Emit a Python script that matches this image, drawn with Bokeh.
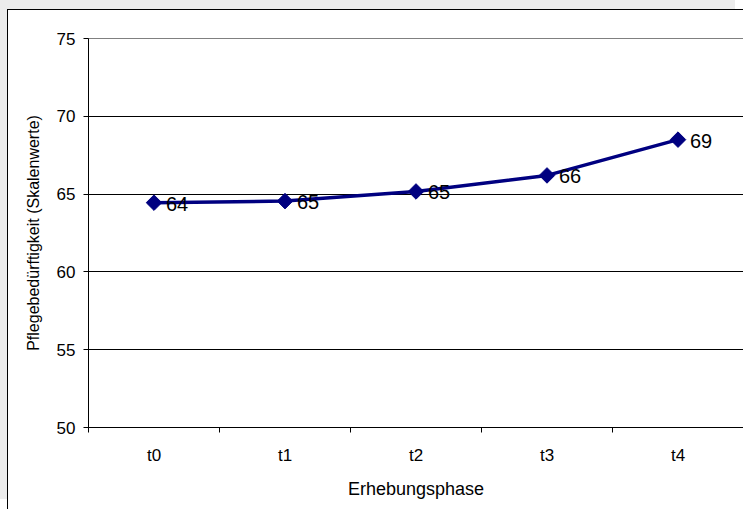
from bokeh.plotting import figure
from bokeh.models import FixedTicker, ColumnDataSource, Range1d
from bokeh.embed import file_html
from bokeh.resources import INLINE
from bokeh.core.properties import value
import math

# Data
phases = ["t0", "t1", "t2", "t3", "t4"]
scores = [64.45, 64.55, 65.17, 66.2, 68.5]
score_labels = ["64", "65", "65", "66", "69"]
y_ticks = [50, 55, 60, 65, 70, 75]

FONT = "Liberation Sans"
xpos = [i + 0.5 for i in range(len(phases))]

p = figure(width=736, height=500, output_backend="svg", toolbar_location=None,
           x_range=Range1d(0, len(phases)), y_range=Range1d(50, 75),
           min_border_left=80, min_border_right=1, min_border_top=28, min_border_bottom=83,
           background_fill_color="white", border_fill_color="white",
           styles={"margin-left": "7px", "margin-top": "9px",
                   "border-left": "1px solid black", "border-top": "1px solid black",
                   "box-shadow": "-8px -10px 0 0 #ececec"})

p.outline_line_color = "#808080"
p.outline_line_width = 1

# Grid
p.xgrid.visible = False
p.ygrid.ticker = FixedTicker(ticks=y_ticks)
p.ygrid.grid_line_color = "black"
p.ygrid.grid_line_width = 1

# X axis
p.xaxis.ticker = FixedTicker(ticks=xpos, minor_ticks=list(range(len(phases) + 1)))
p.xaxis.major_label_overrides = {x: lab for x, lab in zip(xpos, phases)}
p.xaxis.major_tick_line_color = None
p.xaxis.minor_tick_line_color = "black"
p.xaxis.minor_tick_out = 5
p.xaxis.minor_tick_in = 0
p.xaxis.axis_line_color = "black"
p.xaxis.major_label_text_font = FONT
p.xaxis.major_label_text_font_size = "17px"
p.xaxis.major_label_text_color = "black"
p.xaxis.major_label_standoff = 12
p.xaxis.axis_label = "Erhebungsphase"
p.xaxis.axis_label_text_font = FONT
p.xaxis.axis_label_text_font_size = "18px"
p.xaxis.axis_label_text_font_style = "normal"
p.xaxis.axis_label_text_color = "black"
p.xaxis.axis_label_standoff = 11

# Y axis
p.yaxis.ticker = FixedTicker(ticks=y_ticks)
p.yaxis.minor_tick_line_color = None
p.yaxis.major_tick_out = 5
p.yaxis.major_tick_in = 0
p.yaxis.major_tick_line_color = "black"
p.yaxis.axis_line_color = "black"
p.yaxis.major_label_text_font = FONT
p.yaxis.major_label_text_font_size = "17px"
p.yaxis.major_label_text_color = "black"
p.yaxis.major_label_standoff = 8
p.yaxis.axis_label = "Pflegebedürftigkeit (Skalenwerte)"
p.yaxis.axis_label_text_font = FONT
p.yaxis.axis_label_text_font_size = "16px"
p.yaxis.axis_label_text_font_style = "normal"
p.yaxis.axis_label_text_color = "black"
p.yaxis.axis_label_standoff = 12

src = ColumnDataSource(dict(x=xpos, y=scores, lab=score_labels))

p.line("x", "y", source=src, line_color="#000080", line_width=3.5)
p.scatter("x", "y", source=src, marker="square", size=11, angle=math.pi / 4,
          fill_color="#000080", line_color="#000080")
p.text("x", "y", text="lab", source=src, x_offset=12, y_offset=1,
       text_font=value(FONT), text_font_size="20px", text_color="black",
       text_baseline="middle", text_align="left")

open("out.html", "w").write(file_html(p, INLINE))
